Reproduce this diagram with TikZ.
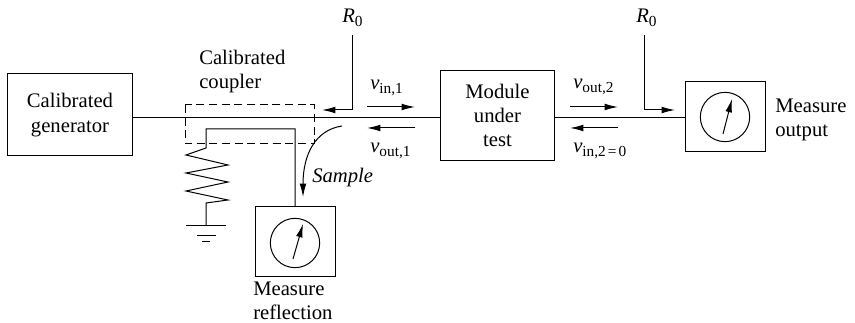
\documentclass[tikz,border=0pt]{standalone}
\usepackage{fontspec}
\setmainfont{Liberation Serif}
\usetikzlibrary{arrows.meta}
\newcommand{\wave}[2]{\textit{#1}\raisebox{-3pt}{\fontsize{11.5}{12}\selectfont #2}}
\newcommand{\boxline}[1]{\raisebox{-2pt}{#1}}
\tikzset{
  unitbox/.style={draw,line width=0.75pt,inner sep=0pt,align=center,font=\fontsize{15.5}{18.2}\selectfont},
  caption/.style={inner sep=0pt,anchor=west,align=left,font=\fontsize{15.5}{18}\selectfont},
  symbol/.style={inner sep=0pt,anchor=base west,font=\fontsize{15.5}{18}\selectfont},
  wire/.style={line width=0.75pt},
  flow/.style={line width=0.75pt,-{Latex[length=10pt,width=5pt]}},
  dial/.style={draw,circle,line width=0.75pt,minimum size=37pt,inner sep=0pt},
}
\begin{document}
\begin{tikzpicture}[x=0.75pt,y=0.75pt,yscale=-1,xscale=1]
\useasboundingbox (0,0) rectangle (855,323);

% Boxes
\node (generator) [unitbox,minimum width=94pt,minimum height=61.5pt] at (70,115) {\boxline{Calibrated}\\\boxline{generator}};
\node (module) [unitbox,minimum width=86pt,minimum height=68pt] at (497.5,115.5) {\boxline{Module}\\\boxline{under}\\\boxline{test}};
\node (outmeter) [unitbox,minimum width=60pt,minimum height=53pt] at (725,116.5) {};
\node (refmeter) [unitbox,minimum width=60pt,minimum height=52.5pt] at (295,242) {};
\node (outdial) [dial] at (725,117) {};
\node (refdial) [dial] at (295,243) {};

% Named points
\coordinate (genport) at (generator.east |- 0,118);
\coordinate (modin) at (module.west |- 0,118);
\coordinate (modout) at (module.east |- 0,118);
\coordinate (meterport) at (outmeter.west |- 0,118);
\coordinate (tapleft) at (206,129);
\coordinate (tapright) at (295,129);
\coordinate (earth) at (206,226);

% Main line
\draw [wire] (genport) -- (modin);
\draw [wire] (modout) -- (meterport);

% Coupler
\draw [wire,dash pattern=on 6pt off 3.5pt] (185,105) rectangle (314,144);
\draw [wire] (refmeter.north) -- (tapright) -- (tapleft) -- (206,148) -- (186,155) -- (228,165) -- (186,173)
  -- (228,182) -- (186,191) -- (228,200) -- (206,203) -- (earth);

% Ground
\draw [wire] (186,226) -- (226,226);
\draw [wire] (197,236) -- (216,236);
\draw [wire] (202,242) -- (210,242);

% Needles
\draw [flow] (723,134) -- (732,99);
\draw [flow] (293,259) -- (303,224);

% R0 pointers
\node (rleft) [symbol] at (342,23) {\wave{R}{0}};
\node (rright) [symbol] at (636,23) {\wave{R}{0}};
\draw [flow] (352,35) -- (352,110) -- (322,110);
\draw [flow] (644,35) -- (644,110) -- (675,110);

% Travelling waves
\draw [flow] (367,107) -- (415,107);
\draw [flow] (415,128) -- (367,128);
\draw [flow] (570,107) -- (618,107);
\draw [flow] (618,128) -- (570,128);
\draw [flow] (342,126) .. controls (315,130) and (303,155) .. (303,197);

% Labels
\node (coupler) [caption] at (199,72) {Calibrated\\coupler};
\node (sample) [caption] at (312,178) {\textit{Sample}};
\node (reflection) [caption] at (253,301) {Measure\\reflection};
\node (output) [caption] at (775,120) {Measure\\output};
\node (vinone) [symbol] at (370,90) {\wave{v}{in,1}};
\node (voutone) [symbol] at (370,153) {\wave{v}{out,1}};
\node (vouttwo) [symbol] at (573,89) {\wave{v}{out,2}};
\node (vintwo) [symbol] at (573,153) {\wave{v}{in,2\kern1.5pt=\kern1.5pt0}};

\end{tikzpicture}
\end{document}
